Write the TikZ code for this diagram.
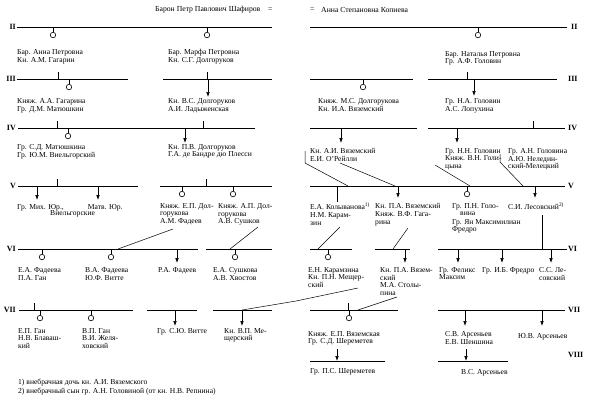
\documentclass[tikz,border=0pt]{standalone}
\usepackage{fontspec}
\setmainfont{Liberation Serif}
\usetikzlibrary{arrows.meta}

\begin{document}
\begin{tikzpicture}[x=1pt, y=-1pt,
  gen/.style={line width=0.8pt},
  tick/.style={line width=0.6pt},
  link/.style={line width=0.5pt},
  son/.style={-{Latex[length=5pt,width=3.6pt]}, line width=0.6pt},
  dau/.style={circle, draw, fill=white, inner sep=0pt, minimum size=5.5pt, line width=0.6pt},
  who/.style={anchor=north west, inner sep=0pt, align=left, font=\fontsize{7.6}{7.8}\selectfont},
  num/.style={inner sep=0pt, font=\fontsize{8}{8}\selectfont\bfseries},
  note/.style={anchor=west, inner sep=0pt, font=\fontsize{7.6}{8}\selectfont}
]
\useasboundingbox (0,0) rectangle (592,400);

% founders
\node[who, anchor=west, font=\fontsize{7.7}{9}\selectfont] (shafirov) at (155,10) {Барон Петр Павлович Шафиров};
\node[who, anchor=west] (eqa) at (268,10) {=};
\node[who, anchor=west] (eqb) at (310,10) {=};
\node[who, anchor=west, font=\fontsize{7.7}{9}\selectfont] (kopieva) at (321,10) {Анна Степановна Копиева};

% generation lines
\foreach \y/\a/\b in {27/17/272, 27/310/567,
    79/17/128, 79/163/272, 79/310/413, 79/428/557,
    128/18/255, 128/310/417, 128/428/565,
    186/18/138, 186/160/272, 186/310/565,
    249/18/198, 249/206/272, 249/310/352, 249/375/410, 249/438/567,
    310/19/133, 310/147/197, 310/213/272, 310/310/398, 310/438/565,
    361/310/385, 361/438/508}
  \draw[gen] (\a,\y) -- (\b,\y);

% generation numbers
\foreach \y/\n in {27/II, 79/III, 128/IV, 186/V, 249/VI, 310/VII}
  \node[num, anchor=east] (l\n) at (16,\y) {\n};
\node[num, anchor=west] (rII) at (571,27) {II};
\foreach \y/\n in {79/III, 128/IV, 186/V, 249/VI, 310/VII, 355/VIII}
  \node[num, anchor=west] (r\n) at (568,\y) {\n};

% couples attached to a line
\foreach \x/\y in {58/79, 207/79, 467/79, 57/128, 203/128, 533/128,
    57/186, 206/186, 34/310, 348/310}
  \draw[tick] (\x,\y) -- ++(0,-7);

% daughters
\foreach \x/\y in {53/27, 207/27, 478/27, 69/79, 363/79, 68/128,
    182/186, 233/186, 467/186, 42/249, 111/249, 235/249, 328/249,
    40/310, 91/310, 349/310}
  \draw[tick] (\x,\y) -- ++(0,5) node[dau, anchor=north] {};

% sons
\foreach \x/\a/\b in {208/79/97, 474/79/96, 185/128/143, 341/128/143, 457/128/143,
    37/186/200, 98/186/200, 398/186/198, 535/186/198,
    177/249/263, 405/249/263, 458/249/263, 502/249/263, 551/249/263,
    175/310/326, 242/310/326, 465/310/326, 542/310/326,
    337/349/361, 466/349/361}
  \draw[son] (\x,\a) -- (\x,\b);

% marriages carried to the next line
\draw[link] (305,151) -- (305,163) -- (348,186);
\draw[link] (340,163) -- (395,186);
\draw[link] (337,186) -- (337,202);
\draw[link] (435,165) -- (470,186);
\draw[link] (500,154) -- (500,162) -- (523,186);
\draw[link] (173,229) -- (118,249);
\draw[link] (258,227) -- (230,249);
\draw[link] (340,227) -- (318,249);
\draw[link] (408,228) -- (393,249);
\draw[link] (542,215) -- (542,249);
\draw[link] (358,288) -- (296,301) -- (242,310);
\draw[link] (397,297) -- (358,310);

% generation II
\node[who] (anna) at (17,49) {Бар. Анна Петровна\\Кн. А.М. Гагарин};
\node[who] (marfa) at (168,49) {Бар. Марфа Петровна\\Кн. С.Г. Долгоруков};
\node[who] (natalia) at (445,51) {Бар. Наталья Петровна\\Гр. А.Ф. Головин};

% generation III
\node[who] (aagag) at (17,98) {Княж. А.А. Гагарина\\Гр. Д.М. Матюшкин};
\node[who] (vsdolg) at (168,98) {Кн. В.С. Долгоруков\\А.И. Ладыженская};
\node[who] (msdolg) at (318,98) {Княж. М.С. Долгорукова\\Кн. И.А. Вяземский};
\node[who] (nagol) at (445,98) {Гр. Н.А. Головин\\А.С. Лопухина};

% generation IV
\node[who] (sdmat) at (17,144) {Гр. С.Д. Матюшкина\\Гр. Ю.М. Виельгорский};
\node[who] (pvdolg) at (168,144) {Кн. П.В. Долгоруков\\Г.А. де Бандре дю Плесси};
\node[who] (aivyaz) at (310,148) {Кн. А.И. Вяземский\\Е.И. О'Рейлли};
\node[who] (nngol) at (445,148) {Гр. Н.Н. Головин\\Княж. В.Н. Голи-\\цына};
\node[who] (angol) at (508,148) {Гр. А.Н. Головина\\А.Ю. Неледин-\\ский-Мелецкий};

% generation V
\node[who] (vielg) at (17,204) {Гр. Мих. Юр.,\hspace{24pt}Матв. Юр.\\[-1.5pt]\hspace{33pt}Виельгорские};
\node[who] (epdolg) at (160,203) {Княж. Е.П. Дол-\\горукова\\А.М. Фадеев};
\node[who] (apdolg) at (218,203) {Княж. А.П. Дол-\\горукова\\А.В. Сушков};
\node[who] (kolyv) at (310,203) {Е.А. Колыванова\textsuperscript{1)}\\Н.М. Карам-\\зин};
\node[who] (pavyaz) at (375,203) {Кн. П.А. Вяземский\\Княж. В.Ф. Гага-\\рина};
\node[who] (pngol) at (452,203) {Гр. П.Н. Голо-\\\hspace{8pt}вина};
\node[who] (jmfredro) at (452,219) {Гр. Ян Максимилиан\\Фредро};
\node[who] (siles) at (508,203) {С.И. Лесовский\textsuperscript{2)}};

% generation VI
\node[who] (eafad) at (18,267) {Е.А. Фадеева\\П.А. Ган};
\node[who] (vafad) at (85,267) {В.А. Фадеева\\Ю.Ф. Витте};
\node[who] (rafad) at (158,267) {Р.А. Фадеев};
\node[who] (easush) at (213,267) {Е.А. Сушкова\\А.В. Хвостов};
\node[who] (enkar) at (308,267) {Е.Н. Карамзина\\Кн. П.Н. Мещер-\\ский};
\node[who] (pavyazb) at (380,267) {Кн. П.А. Вязем-\\ский\\М.А. Столы-\\пина};
\node[who] (felix) at (439,267) {Гр. Феликс\\Максим};
\node[who] (ibfredro) at (482,267) {Гр. И.Б. Фредро};
\node[who] (ssles) at (539,267) {С.С. Ле-\\совский};

% generation VII
\node[who] (epgan) at (18,328) {Е.П. Ган\\Н.В. Блаваш-\\кий};
\node[who] (vpgan) at (82,328) {В.П. Ган\\В.И. Желя-\\ховский};
\node[who] (witte) at (157,328) {Гр. С.Ю. Витте};
\node[who] (vpmesh) at (224,328) {Кн. В.П. Ме-\\щерский};
\node[who] (epvyaz) at (308,331) {Княж. Е.П. Вяземская\\Гр. С.Д. Шереметев};
\node[who] (svars) at (445,331) {С.В. Арсеньев\\Е.В. Шеншина};
\node[who] (yuvars) at (518,333) {Ю.В. Арсеньев};

% generation VIII
\node[who] (pssher) at (310,368) {Гр. П.С. Шереметев};
\node[who] (vsars) at (461,369) {В.С. Арсеньев};

% notes
\node[note] (noteA) at (18,383) {1) внебрачная дочь кн. А.И. Вяземского};
\node[note] (noteB) at (18,392) {2) внебрачный сын гр. А.Н. Головиной (от кн. Н.В. Репнина)};

\end{tikzpicture}
\end{document}
